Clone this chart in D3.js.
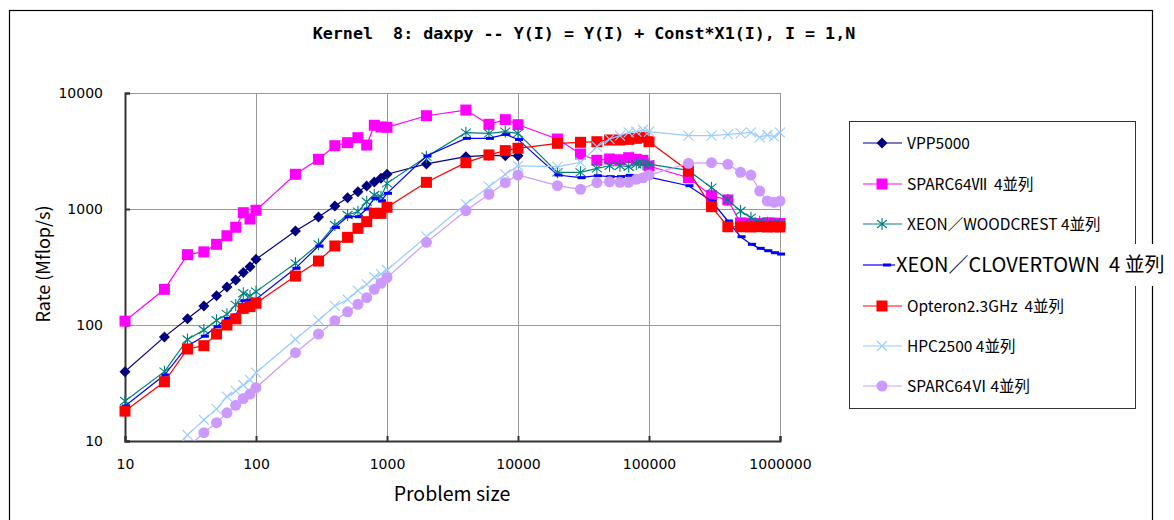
<!DOCTYPE html>
<html>
<head>
<meta charset="utf-8">
<script src="https://cdn.jsdelivr.net/npm/d3@7"></script>
<style>
  html, body { margin: 0; padding: 0; background: #fff; }
  svg { display: block; font-family: "Noto Sans CJK JP", "Noto Sans", sans-serif; }
  text { white-space: pre; }
</style>
</head>
<body>
<svg id="chart" width="1174" height="520"></svg>
<script>
const titleText = "Kernel  8: daxpy -- Y(I) = Y(I) + Const*X1(I), I = 1,N";
const xTitle = "Problem size";
const yTitle = "Rate (Mflop/s)";
const xTicks = [10, 100, 1000, 10000, 100000, 1000000];
const yTicks = [10, 100, 1000, 10000];

const sizes = [10,20,30,40,50,60,70,80,90,100,200,300,400,500,600,700,800,900,1000,
  2000,4000,6000,8000,10000,20000,30000,40000,50000,60000,70000,80000,90000,100000,
  200000,300000,400000,500000,600000,700000,800000,900000,1000000];

const seriesNames = ["VPP5000", "SPARC64Ⅶ  4並列", "XEON／WOODCREST 4並列", "XEON／CLOVERTOWN  4 並列",
  "Opteron2.3GHz  4並列", "HPC2500 4並列", "SPARC64Ⅵ 4並列"];

const vpp5000 = [39.6,79,113,146,179,213,244,283,318,368,646,853,1062,1251,1409,1578,1709,1840,1992,
  2445,2827,2900,2880,2880,null,null,null,null,null,null,null,null,null,
  null,null,null,null,null,null,null,null,null];
const sparc64vii = [108,203,404,427,496,588,696,929,820,975,1992,2681,3513,3730,4120,3560,5270,5090,5060,
  6370,7130,5370,5890,5330,4010,2980,2630,2700,2660,2770,2680,2630,2350,
  1862,1303,1197,760,755,750,760,755,750];
const woodcrest = [22.1,39.6,75,90.6,110,124,149,188,178,194,340,496,728,888,948,1156,1321,1276,1665,
  2827,4550,4490,4640,4490,2070,2070,2240,2360,2360,2315,2430,2430,2440,
  2150,1527,1197,961,842,778,760,750,745];
const clovertown = [20,37,66,80,96.7,114,122,162,164,167,308,480,695,858,858,1000,1237,1172,1365,
  2864,4065,4065,4400,3980,1963,1862,1937,1900,1900,1950,1920,1900,1880,
  1588,1172,788,577,496,458,437,420,409];
const opteron = [18.1,32.4,62.1,66.3,83.6,100,113,139,144,154,264,356,480,570,681,778,918,918,1035,
  1698,2508,2924,3185,3337,3685,3758,3803,3933,3933,3983,4064,4150,3803,
  2127,1047,703,703,700,705,700,703,700];
const hpc2500 = [null,6.1,11.3,15.2,18.8,24.1,27,30.4,33.6,38.8,75.3,110,146,166,198,224,258,275,298,
  577,1104,1557,1991,2349,2315,2525,3444,4010,4285,4585,4640,4800,4640,
  4285,4285,4405,4490,4585,4150,4345,4200,4550];
const sparc64vi = [null,null,8.8,11.8,14.4,17.5,20.3,23.2,25.4,28.8,57.7,83.6,109,130,151,172,203,229,256,
  516,967,1340,1686,1963,1588,1479,1686,1718,1700,1700,1803,1860,1960,
  2478,2508,2428,2070,1963,1429,1172,1142,1172];

const seriesValues = [vpp5000, sparc64vii, woodcrest, clovertown, opteron, hpc2500, sparc64vi];
const seriesColors = ["#000080", "#FF00FF", "#008080", "#0000FF", "#FF0000", "#99CCFF", "#CC99FF"];
const seriesMarkers = ["diamond", "square", "star", "dash", "square", "cross", "circle"];

const svg = d3.select("#chart");
const W = 1174, H = 520;
const plot = {left: 125, right: 780, top: 93, bottom: 441};
const tickFont = "\"DejaVu Sans\", sans-serif";

svg.append("rect").attr("x", 0).attr("y", 0).attr("width", W).attr("height", H).attr("fill", "#fff");
// outer chart border
svg.append("rect").attr("x", 9.5).attr("y", 10.5).attr("width", 1143).attr("height", 530)
  .attr("fill", "none").attr("stroke", "#000").attr("stroke-width", 1.2);

const x = d3.scaleLog().domain([10, 1000000]).range([plot.left, plot.right]);
const y = d3.scaleLog().domain([10, 10000]).range([plot.bottom, plot.top]);

// title
svg.append("text").attr("x", 584).attr("y", 39).attr("text-anchor", "middle")
  .attr("font-family", "\"DejaVu Sans Mono\", monospace")
  .attr("font-size", 16.7).attr("font-weight", "bold").attr("fill", "#000").text(titleText);

// grid
const gx = svg.append("g").attr("transform", `translate(0,${plot.bottom})`)
  .call(d3.axisBottom(x).tickValues(xTicks.slice(1)).tickSize(-(plot.bottom - plot.top)).tickFormat(""));
gx.select(".domain").remove();
gx.selectAll("line").attr("stroke", "#999").attr("stroke-width", 1);
const gy = svg.append("g").attr("transform", `translate(${plot.left},0)`)
  .call(d3.axisLeft(y).tickValues(yTicks.slice(1)).tickSize(-(plot.right - plot.left)).tickFormat(""));
gy.select(".domain").remove();
gy.selectAll("line").attr("stroke", "#999").attr("stroke-width", 1);

// axes
const ax = svg.append("g").attr("transform", `translate(0,${plot.bottom})`)
  .call(d3.axisBottom(x).tickValues(xTicks).tickFormat(d3.format("d")).tickSize(-5).tickPadding(18));
ax.select(".domain").attr("stroke", "#333").attr("stroke-width", 2);
ax.selectAll("line").attr("stroke", "#333").attr("stroke-width", 2);
ax.selectAll("text").attr("font-size", 14).attr("fill", "#000").attr("font-family", tickFont);

const ay = svg.append("g").attr("transform", `translate(${plot.left},0)`)
  .call(d3.axisLeft(y).tickValues(yTicks).tickFormat(d3.format("d")).tickSize(-5).tickPadding(22));
ay.select(".domain").attr("stroke", "#333").attr("stroke-width", 2);
ay.selectAll("line").attr("stroke", "#333").attr("stroke-width", 2);
ay.selectAll("text").attr("font-size", 14).attr("fill", "#000").attr("font-family", tickFont);

svg.append("text").attr("x", 452).attr("y", 501).attr("text-anchor", "middle")
  .attr("font-size", 19.5).attr("fill", "#000").text(xTitle);
svg.append("text").attr("transform", "translate(50,264) rotate(-90)").attr("text-anchor", "middle")
  .attr("font-size", 18).attr("fill", "#000").text(yTitle);

// clip
svg.append("clipPath").attr("id", "plotclip").append("rect")
  .attr("x", plot.left).attr("y", plot.top).attr("width", plot.right - plot.left).attr("height", plot.bottom - plot.top);

function drawMarker(g, type, color) {
  switch (type) {
    case "diamond":
      g.append("path").attr("d", "M0,-5.5L5.5,0L0,5.5L-5.5,0Z").attr("fill", color); break;
    case "square":
      g.append("rect").attr("x", -5.5).attr("y", -5.5).attr("width", 11).attr("height", 11).attr("fill", color); break;
    case "star":
      g.append("path").attr("d", "M0,-6V6M-5,-4L5,4M-5,4L5,-4").attr("stroke", color).attr("stroke-width", 1.1).attr("fill", "none"); break;
    case "dash":
      g.append("rect").attr("x", -3).attr("y", -1.5).attr("width", 8).attr("height", 3).attr("fill", color); break;
    case "cross":
      g.append("path").attr("d", "M-5,-5L5,5M-5,5L5,-5").attr("stroke", color).attr("stroke-width", 1.1).attr("fill", "none"); break;
    case "circle":
      g.append("circle").attr("r", 5.5).attr("fill", color); break;
  }
}

const line = d3.line().defined(d => d.v != null).x(d => x(d.s)).y(d => y(d.v));

seriesValues.forEach((vals, i) => {
  const pts = sizes.map((s, j) => ({s: s, v: vals[j]}));
  const g = svg.append("g");
  g.append("path").datum(pts).attr("clip-path", "url(#plotclip)")
    .attr("d", line).attr("fill", "none").attr("stroke", seriesColors[i]).attr("stroke-width", 1.2);
  pts.filter(d => d.v != null && d.v >= 10).forEach(d => {
    const m = g.append("g").attr("transform", `translate(${x(d.s)},${y(d.v)})`);
    drawMarker(m, seriesMarkers[i], seriesColors[i]);
  });
});

// legend
const lg = svg.append("g");
lg.append("rect").attr("x", 849.5).attr("y", 121.5).attr("width", 286).attr("height", 287)
  .attr("fill", "#fff").attr("stroke", "#333").attr("stroke-width", 1);
const legendY = [143, 184, 224, 265, 306, 346, 386];
seriesNames.forEach((name, i) => {
  const yy = legendY[i];
  const big = i === 3;
  if (big) {
    lg.append("rect").attr("x", 898).attr("y", yy - 21).attr("width", 272).attr("height", 42).attr("fill", "#fff");
  }
  lg.append("line").attr("x1", 863).attr("x2", big ? 895 : 902).attr("y1", yy).attr("y2", yy)
    .attr("stroke", seriesColors[i]).attr("stroke-width", 1.2);
  const m = lg.append("g").attr("transform", `translate(${big ? 886 : 882},${yy})`);
  drawMarker(m, seriesMarkers[i], seriesColors[i]);
  lg.append("text").attr("x", big ? 896 : 907).attr("y", yy).attr("dy", "0.36em")
    .attr("font-size", big ? 20 : 15.5).attr("fill", "#000").text(name);
});
</script>
</body>
</html>
